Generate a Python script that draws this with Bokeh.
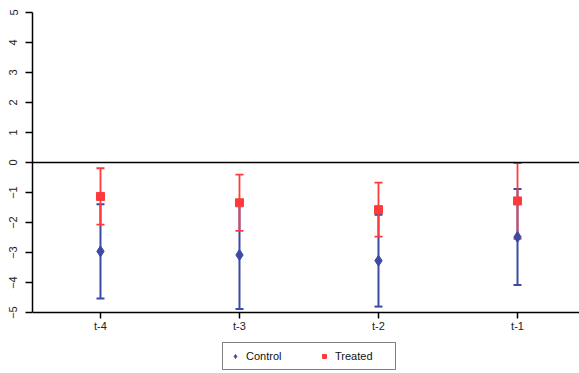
from bokeh.plotting import figure
from bokeh.models import (Range1d, FixedTicker, Whisker, ColumnDataSource, Span,
                          Legend, LegendItem, TeeHead)
from bokeh.embed import file_html
from bokeh.resources import INLINE

periods = ["t-4", "t-3", "t-2", "t-1"]
control_mean = [-2.96, -3.08, -3.27, -2.48]
control_err = [1.57, 1.80, 1.53, 1.60]
treated_mean = [-1.13, -1.34, -1.57, -1.28]
treated_err = [0.94, 0.94, 0.90, 1.26]
y_ticks = [-5, -4, -3, -2, -1, 0, 1, 2, 3, 4, 5]

BLUE = "#3a4aa6"
RED = "#ff3a3a"
FONT = "Liberation Sans"

xs = [i + 1 for i in range(len(periods))]

ctrl = ColumnDataSource(dict(
    x=xs, y=control_mean,
    lo=[m - e for m, e in zip(control_mean, control_err)],
    hi=[m + e for m, e in zip(control_mean, control_err)]))
trt = ColumnDataSource(dict(
    x=xs, y=treated_mean,
    lo=[m - e for m, e in zip(treated_mean, treated_err)],
    hi=[m + e for m, e in zip(treated_mean, treated_err)]))

p = figure(width=579, height=373, output_backend="svg", toolbar_location=None,
           x_range=Range1d(0.511, 4.446), y_range=Range1d(-7.03, 5),
           min_border_left=32, min_border_right=0, min_border_top=12,
           min_border_bottom=0)
p.outline_line_color = None
p.grid.visible = False
p.background_fill_color = "white"
p.border_fill_color = "white"

# axes
p.yaxis.ticker = FixedTicker(ticks=y_ticks)
p.yaxis.bounds = (-5, 5)
p.yaxis.major_label_orientation = "vertical"
p.yaxis.axis_line_width = 1.5
p.yaxis.axis_line_color = "black"
p.yaxis.major_tick_line_width = 1.5
p.yaxis.major_tick_line_color = "black"
p.yaxis.major_tick_out = 7
p.yaxis.major_tick_in = 0
p.yaxis.minor_tick_line_color = None
p.yaxis.major_label_text_font = FONT
p.yaxis.major_label_text_font_size = "11px"
p.yaxis.major_label_text_color = "#222222"
p.yaxis.major_label_standoff = 8

p.xaxis.fixed_location = -5
p.xaxis.ticker = FixedTicker(ticks=xs)
p.xaxis.major_label_overrides = {x: lab for x, lab in zip(xs, periods)}
p.xaxis.axis_line_width = 1.5
p.xaxis.axis_line_color = "black"
p.xaxis.major_tick_line_width = 1.5
p.xaxis.major_tick_line_color = "black"
p.xaxis.major_tick_out = 6
p.xaxis.major_tick_in = 0
p.xaxis.minor_tick_line_color = None
p.xaxis.major_label_text_font = FONT
p.xaxis.major_label_text_font_size = "11px"
p.xaxis.major_label_text_color = "#222222"
p.xaxis.major_label_standoff = 1

p.add_layout(Span(location=0, dimension="width", line_color="black", line_width=1.5))

# error bars
wc = Whisker(source=ctrl, base="x", upper="hi", lower="lo", line_color=BLUE, line_width=2,
             upper_head=TeeHead(size=8, line_color=BLUE, line_width=2),
             lower_head=TeeHead(size=8, line_color=BLUE, line_width=2))
wt = Whisker(source=trt, base="x", upper="hi", lower="lo", line_color=RED, line_width=1.8,
             upper_head=TeeHead(size=8, line_color=RED, line_width=1.8),
             lower_head=TeeHead(size=8, line_color=RED, line_width=1.8))
p.add_layout(wc)
p.add_layout(wt)

rc = p.scatter("x", "y", source=ctrl, marker="diamond", size=11, color=BLUE)
rt = p.scatter("x", "y", source=trt, marker="square", size=8, color=RED)

legend = Legend(items=[LegendItem(label="Control", renderers=[rc]),
                       LegendItem(label="Treated", renderers=[rt])],
                orientation="horizontal", location=(190, 3),
                border_line_color="black", border_line_width=1.5,
                label_text_font=FONT, label_text_font_size="11px",
                label_text_color="#111111", label_width=53,
                glyph_width=10, glyph_height=10, spacing=20, padding=7,
                margin=0, label_standoff=6)
p.add_layout(legend, "center")

open("out.html", "w").write(file_html(p, INLINE))
